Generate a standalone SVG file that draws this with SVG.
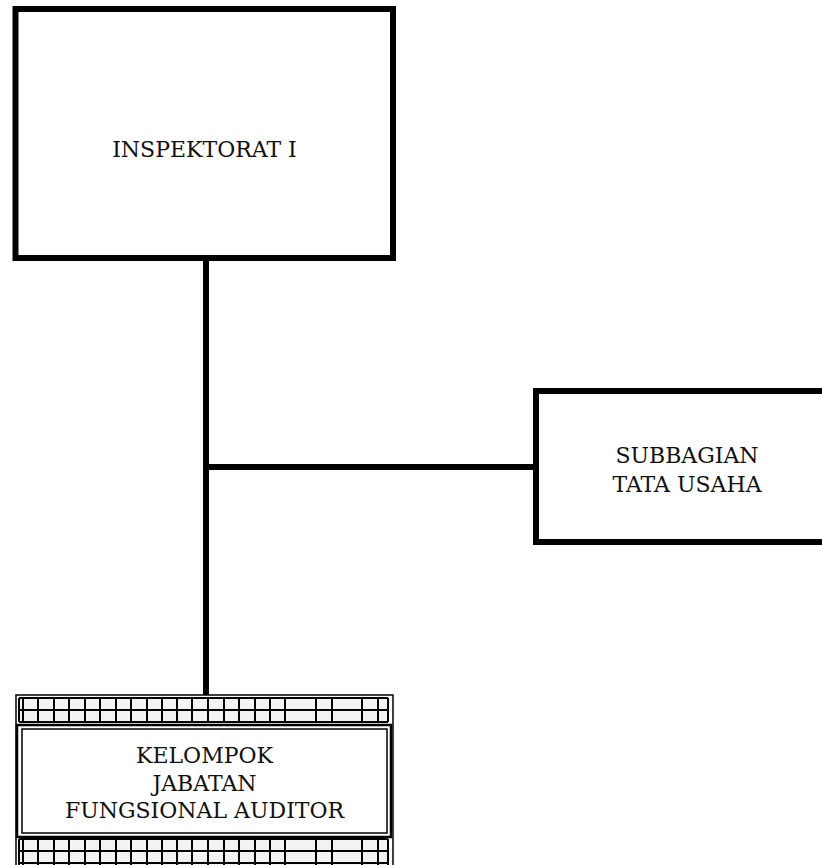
<svg xmlns="http://www.w3.org/2000/svg" width="822" height="865" viewBox="0 0 822 865">
  <style>
    .box { fill: #ffffff; stroke: #000000; stroke-width: 6; }
    .conn { stroke: #000000; stroke-width: 6; fill: none; }
    .lbl { font-family: "DejaVu Serif", "Liberation Serif", serif; font-size: 22px; fill: #111111; text-anchor: middle; }
    .thin { fill: none; stroke: #000000; stroke-width: 1.5; }
    .grid { stroke: #000000; stroke-width: 2; }
    .band { fill: #f3f3f3; }
  </style>
  <rect width="822" height="865" fill="#ffffff"/>
  <g id="connectors">
    <path class="conn" d="M206 258V695"/>
    <path class="conn" d="M206 467H536"/>
  </g>
  <g id="inspektorat">
    <rect class="box" x="15.5" y="9" width="377.5" height="249"/>
    <text class="lbl" x="204.5" y="157">INSPEKTORAT I</text>
  </g>
  <g id="subbagian">
    <rect class="box" x="536" y="391" width="310" height="151"/>
    <text class="lbl" x="687" y="463">SUBBAGIAN</text>
    <text class="lbl" x="687" y="492">TATA USAHA</text>
  </g>
  <g id="kelompok">
    <rect class="thin" x="16" y="695" width="377" height="180"/>
    <rect class="band" x="19" y="698" width="369" height="24"/>
    <rect class="band" x="19" y="839" width="369" height="26"/>
    <g>
      <path class="grid" d="M23 698V722M38 698V722M54 698V722M69 698V722M85 698V722M100 698V722M116 698V722M131 698V722M147 698V722M162 698V722M177 698V722M192 698V722M208 698V722M224 698V722M239 698V722M255 698V722M270 698V722M285 698V722M316 698V722M332 698V722M362 698V722M378 698V722"/>
      <path class="grid" d="M23 839V865M38 839V865M54 839V865M69 839V865M85 839V865M100 839V865M116 839V865M131 839V865M147 839V865M162 839V865M177 839V865M192 839V865M208 839V865M224 839V865M239 839V865M255 839V865M270 839V865M285 839V865M316 839V865M332 839V865M362 839V865M378 839V865"/>
      <path class="grid" d="M19 698H388M19 710H388M19 722H388M19 839H388M19 851H388M19 863H388"/>
      <path class="grid" d="M19 698V722M388 698V722M19 839V865M388 839V865"/>
    </g>
    <rect x="17" y="725" width="374" height="112" fill="#ffffff" stroke="#000000" stroke-width="2.5"/>
    <rect class="thin" x="22" y="729" width="365" height="104"/>
    <text class="lbl" x="204.5" y="763">KELOMPOK</text>
    <text class="lbl" x="204.5" y="791">JABATAN</text>
    <text class="lbl" x="204.5" y="818">FUNGSIONAL AUDITOR</text>
  </g>
</svg>
